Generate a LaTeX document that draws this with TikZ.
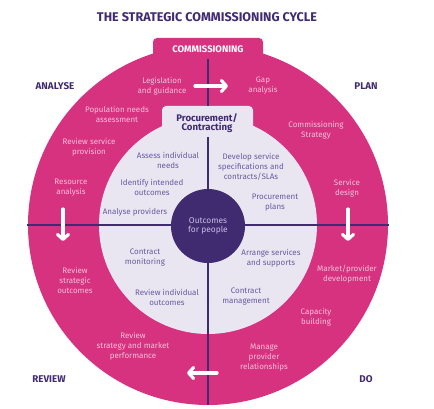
\documentclass[tikz,border=0pt]{standalone}
\usepackage{fontspec}
\setmainfont{Fira Sans}
\usepackage{tikz}
\usetikzlibrary{arrows.meta,positioning}
\definecolor{cmpink}{RGB}{214,50,127}
\definecolor{cmpurple}{RGB}{64,42,112}
\definecolor{cmlight}{RGB}{233,230,241}
\definecolor{pinktext}{RGB}{247,192,218}
\definecolor{innertext}{RGB}{106,90,160}
\definecolor{hubtext}{RGB}{200,190,228}
\tikzset{
  outertxt/.style={text=pinktext, font=\fontsize{8}{10}\selectfont, align=center, inner sep=0pt},
  innertxt/.style={text=innertext, font=\fontsize{8}{10}\selectfont, align=center, inner sep=0pt},
  stage/.style={text=cmpurple, font=\bfseries\fontsize{9.8}{11}\selectfont, inner sep=0pt},
  divider/.style={cmpurple, line width=1.6pt},
  cyclearrow/.style={white, line width=3.2pt, line cap=round, -{Straight Barb[length=5pt,width=11pt,round]}}
}

\begin{document}
\begin{tikzpicture}[x=1pt, y=-1pt]
    \useasboundingbox (0,0) rectangle (434,409);

    \node[text=cmpurple, font=\bfseries\fontsize{12.6}{14}\selectfont] (title) at (207,17) {THE STRATEGIC COMMISSIONING CYCLE};

    \fill[cmpink, rounded corners=4pt] (153,38) rectangle (263,90);
    \fill[cmpink] (208,225) circle[radius=180pt];
    \fill[cmlight] (208,225) circle[radius=109pt];
    \fill[cmlight, rounded corners=4pt] (162,106) rectangle (253,150);

    \draw[divider] (208,59) -- (208,106);
    \draw[divider] (208,137) -- (208,405);
    \draw[divider] (27,225) -- (389,225);

    \node[circle, fill=cmpurple, minimum size=74pt, inner sep=0pt, text=hubtext, font=\fontsize{8.4}{9}\selectfont, align=center] (hub) at (208,226) {Outcomes\\for people};

    \node[text=white, font=\bfseries\fontsize{9.5}{10}\selectfont] (comm) at (208,49) {COMMISSIONING};
    \node[text=cmpurple, font=\bfseries\fontsize{9.6}{9.5}\selectfont, align=center, inner sep=0pt] (proc) at (207,123) {Procurement/\\Contracting};

    \node[stage] (analyse) at (55,86) {ANALYSE};
    \node[stage] (plan) at (366,86) {PLAN};
    \node[stage] (review) at (49,379) {REVIEW};
    \node[stage] (do) at (366,379) {DO};

    \node[outertxt] (legis) at (162,86) {Legislation\\and guidance};
    \node[outertxt] (gap) at (263,86) {Gap\\analysis};
    \node[outertxt] (popneeds) at (117,114) {Population needs\\assessment};
    \node[outertxt] (strategy) at (316,130) {Commissioning\\Strategy};
    \node[outertxt] (provision) at (89,147) {Review service\\provision};
    \node[outertxt] (resource) at (71,188) {Resource\\analysis};
    \node[outertxt] (design) at (347,188) {Service\\design};
    \node[outertxt] (stratout) at (75,280) {Review\\strategic\\outcomes};
    \node[outertxt] (market) at (347,274) {Market/provider\\development};
    \node[outertxt] (capacity) at (316,317) {Capacity\\building};
    \node[outertxt] (perform) at (133,346) {Review\\strategy and market\\performance};
    \node[outertxt] (relations) at (264,358) {Manage\\provider\\relationships};

    \node[innertxt] (assess) at (168,160) {Assess individual\\needs};
    \node[innertxt] (identify) at (152,187) {Identify intended\\outcomes};
    \node[innertxt] (analyse prov) at (135,212) {Analyse providers};
    \node[innertxt] (specs) at (251,167) {Develop service\\specifications and\\contracts/SLAs};
    \node[innertxt] (procplans) at (275,203) {Procurement\\plans};
    \node[innertxt] (monitor) at (145,258) {Contract\\monitoring};
    \node[innertxt] (arrange) at (271,258) {Arrange services\\and supports};
    \node[innertxt] (indout) at (167,297) {Review individual\\outcomes};
    \node[innertxt] (manage) at (246,297) {Contract\\management};

    \coordinate (top a) at (195,86);
    \coordinate (top b) at (228,86);
    \coordinate (left a) at (63,209);
    \coordinate (left b) at (63,241);
    \coordinate (right a) at (348,209);
    \coordinate (right b) at (348,241);
    \coordinate (bot a) at (217,373);
    \coordinate (bot b) at (187,373);
    \draw[cyclearrow] (top a) -- (top b);
    \draw[cyclearrow] (left a) -- (left b);
    \draw[cyclearrow] (right a) -- (right b);
    \draw[cyclearrow] (bot a) -- (bot b);
\end{tikzpicture}
\end{document}
